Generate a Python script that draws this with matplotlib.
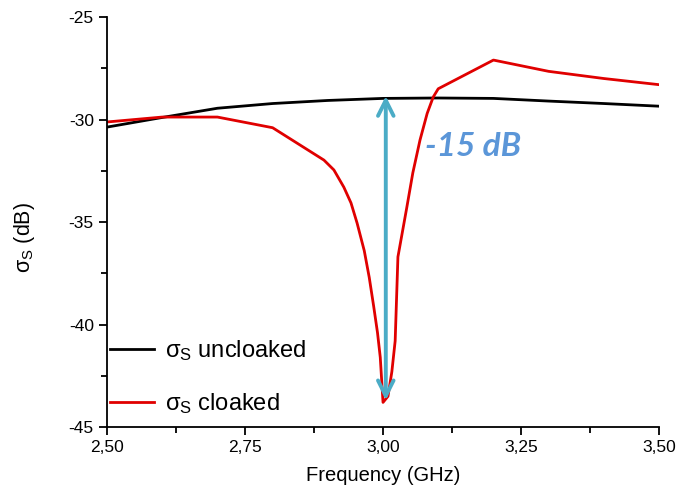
import matplotlib
matplotlib.use("Agg")
import matplotlib.pyplot as plt
from matplotlib.ticker import MultipleLocator, FuncFormatter

plt.rcParams['font.family'] = ['Liberation Sans', 'DejaVu Sans']
plt.rcParams['mathtext.fontset'] = 'custom'
plt.rcParams['mathtext.rm'] = 'Liberation Sans'
plt.rcParams['mathtext.it'] = 'Liberation Sans'

# uncloaked curve
freq_unclk = [2.5, 2.6, 2.7, 2.8, 2.9, 3.0, 3.1, 3.2, 3.3, 3.4, 3.5]
sig_unclk = [-30.37, -29.9, -29.45, -29.22, -29.07, -28.97, -28.95, -28.97, -29.1, -29.22, -29.35]

# cloaked curve
freq_clk = [2.5, 2.6, 2.7, 2.8, 2.893, 2.911, 2.929, 2.942, 2.953, 2.966, 2.975,
            2.983, 2.99, 2.995, 3.0, 3.009, 3.016, 3.022, 3.027, 3.043, 3.054,
            3.067, 3.08, 3.091, 3.1, 3.2, 3.3, 3.4, 3.5]
sig_clk = [-30.12, -29.88, -29.88, -30.4, -31.98, -32.46, -33.3, -34.07, -35.05, -36.4, -37.7,
           -39.1, -40.4, -41.6, -43.8, -43.5, -42.3, -40.8, -36.7, -34.3, -32.6,
           -31.0, -29.7, -28.9, -28.5, -27.1, -27.65, -28.0, -28.3]

x_ticks = [2.5, 2.75, 3.0, 3.25, 3.5]
y_ticks = [-45, -40, -35, -30, -25]

fig = plt.figure(figsize=(6.79, 4.92), dpi=100)
ax = fig.add_axes([0.1576, 0.1321, 0.8130, 0.8333])

ax.plot(freq_unclk, sig_unclk, color='black', lw=2.0, label=r'$\sigma_S$ uncloaked')
ax.plot(freq_clk, sig_clk, color='#e00000', lw=2.0, label=r'$\sigma_S$ cloaked')

ax.set_xlim(2.5, 3.5)
ax.set_ylim(-45, -25)
ax.set_xticks(x_ticks)
ax.set_yticks(y_ticks)
ax.xaxis.set_minor_locator(MultipleLocator(0.125))
ax.yaxis.set_minor_locator(MultipleLocator(2.5))
ax.xaxis.set_major_formatter(FuncFormatter(lambda v, p: f"{v:.2f}".replace('.', ',')))
ax.yaxis.set_major_formatter(FuncFormatter(lambda v, p: f"{v:.0f}"))

for s in ['top', 'right']:
    ax.spines[s].set_visible(False)
for s in ['left', 'bottom']:
    ax.spines[s].set_linewidth(1.3)
ax.tick_params(which='major', direction='out', length=6, width=1.3, labelsize=12.5)
ax.tick_params(which='minor', direction='out', length=4, width=1.3)

ax.set_xlabel('Frequency (GHz)', fontsize=14.5, labelpad=8)
ax.set_ylabel(r'$\sigma_S$ (dB)', fontsize=15.5)
ax.yaxis.set_label_coords(-0.127, 0.463)

# -15 dB arrow
ax.annotate('', xy=(3.005, -28.85), xytext=(3.005, -43.7),
            arrowprops=dict(arrowstyle='<->', color='#4bacc6', lw=2.8,
                            mutation_scale=28, shrinkA=0, shrinkB=0))
ax.text(3.076, -31.3, '-15 dB', color='#5b96d8', fontsize=24,
        fontweight='bold', fontstyle='italic', family='Lato', va='center')

leg = ax.legend(loc='lower left', bbox_to_anchor=(-0.004, 0.015), frameon=False,
                fontsize=17, handlelength=1.9, handletextpad=0.45, labelspacing=1.2,
                borderaxespad=0.1, borderpad=0.1)

fig.savefig('out.png', dpi=100)
